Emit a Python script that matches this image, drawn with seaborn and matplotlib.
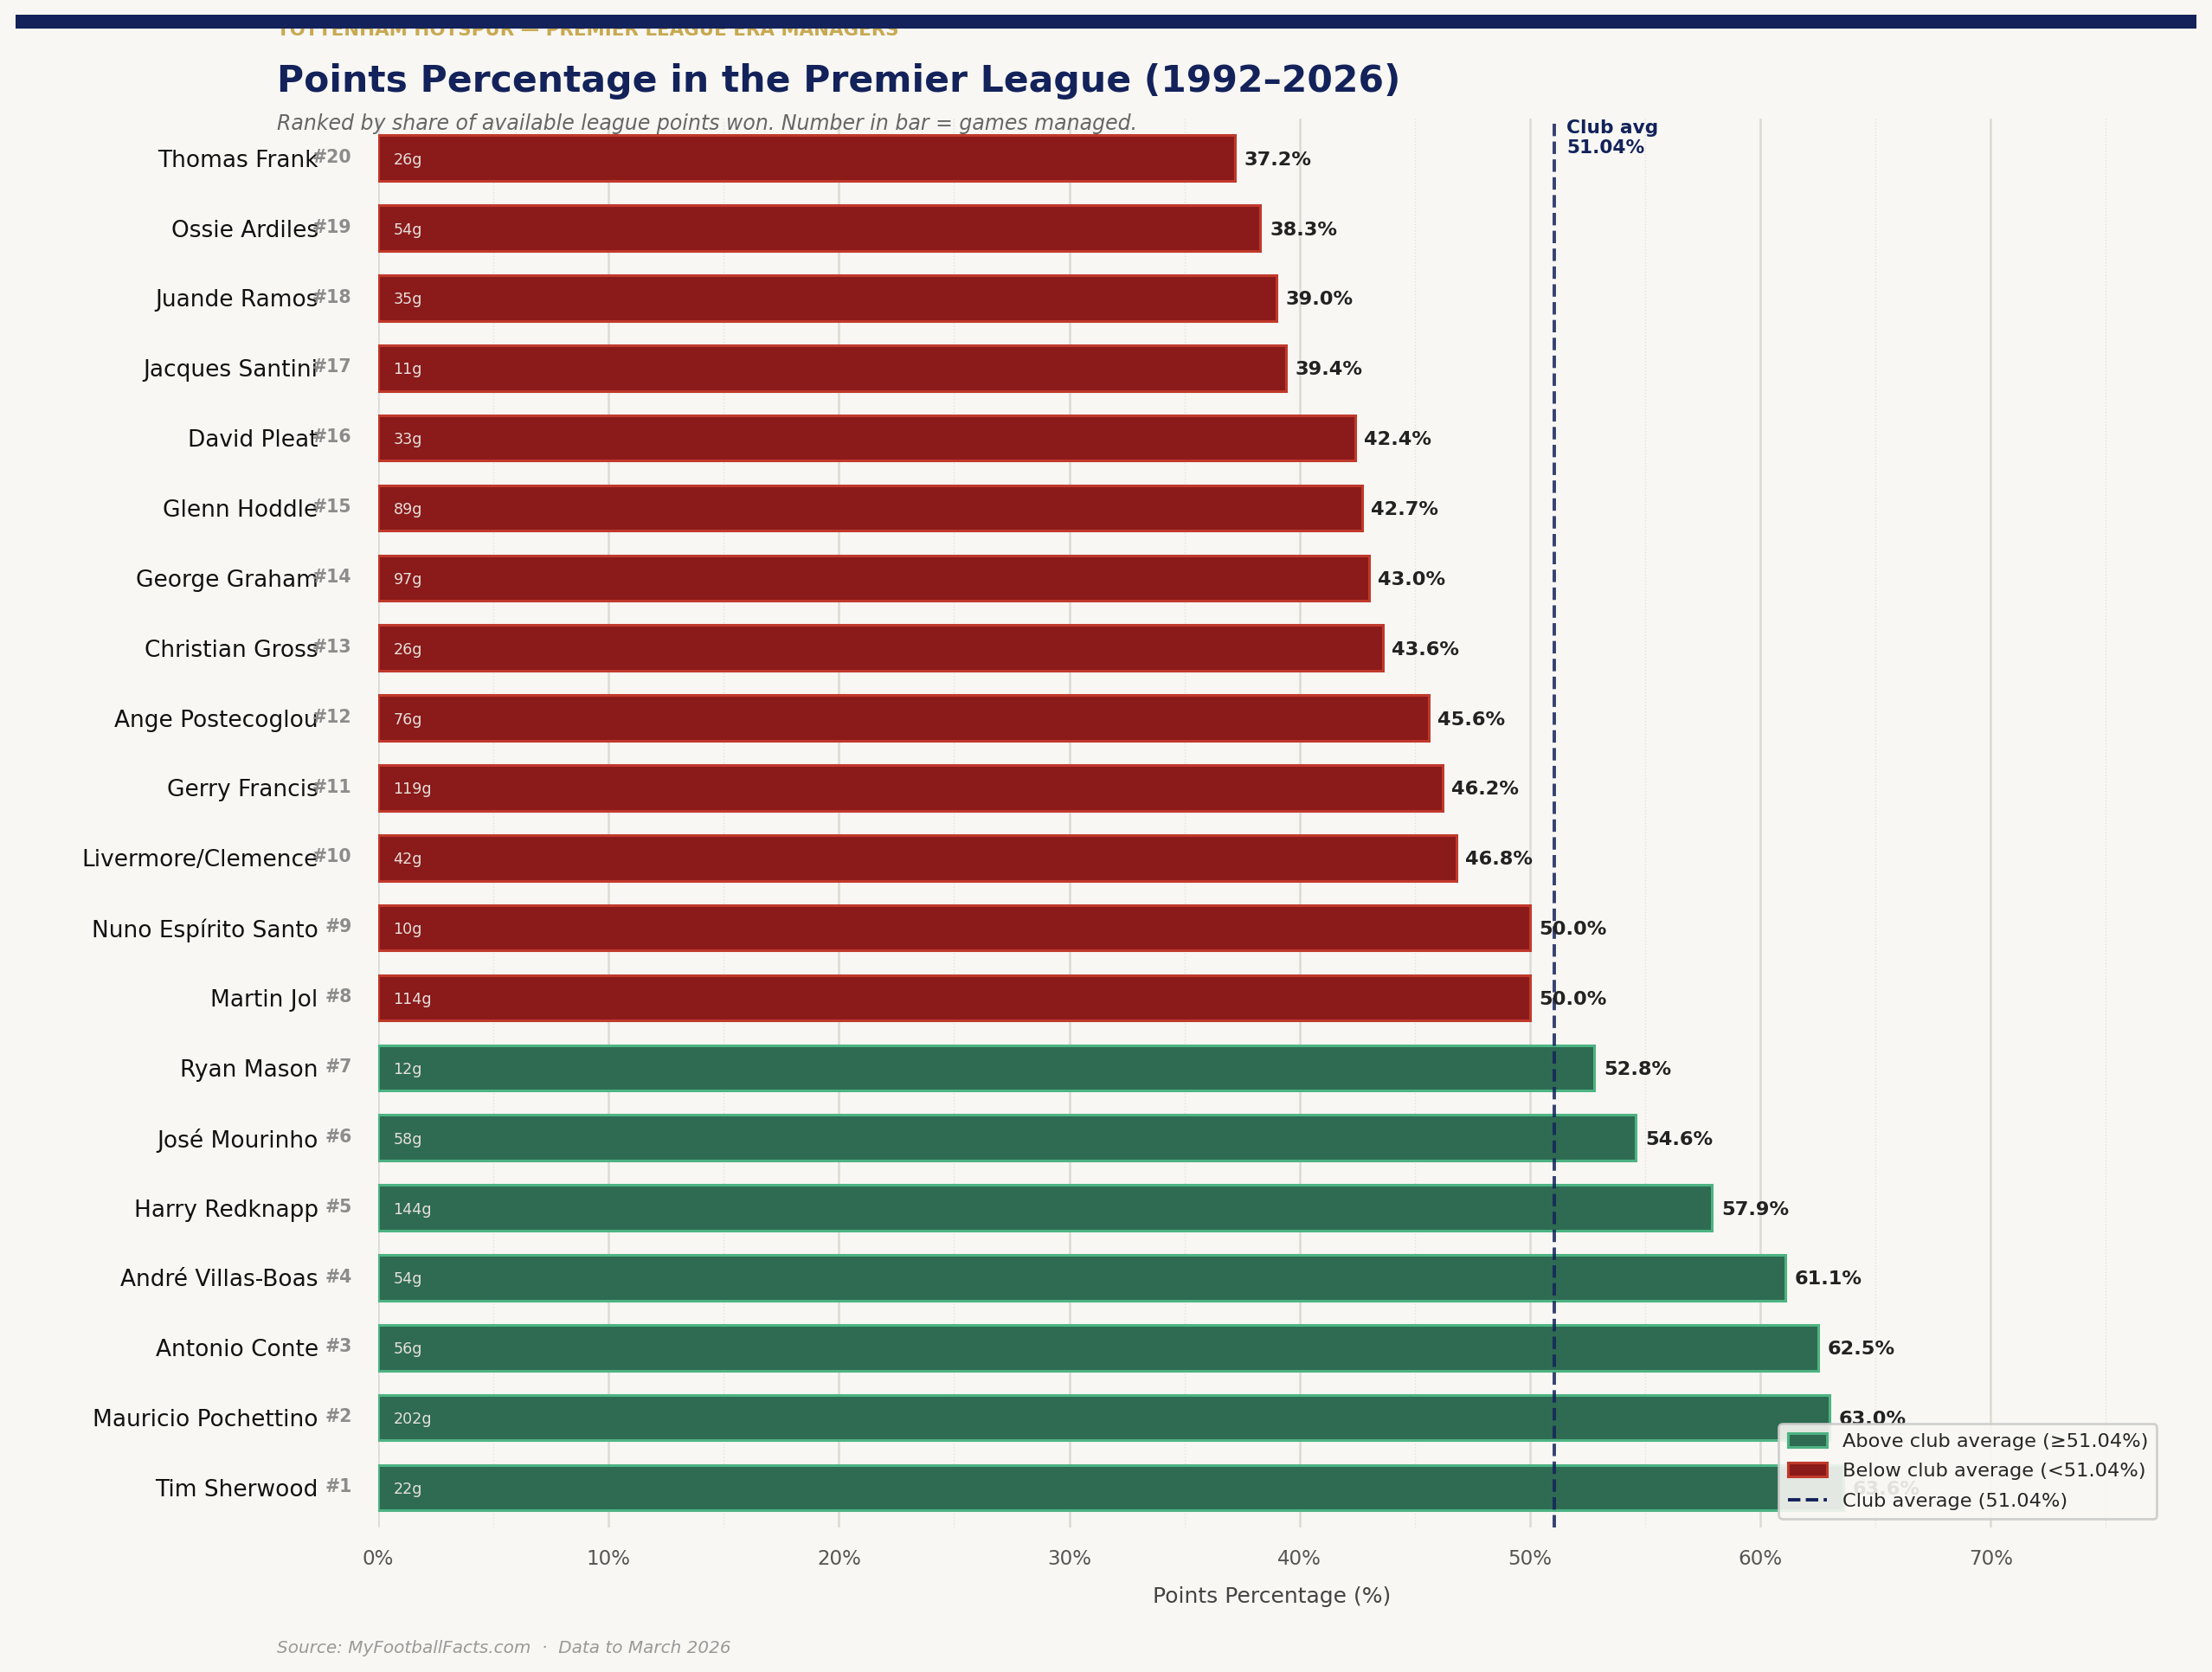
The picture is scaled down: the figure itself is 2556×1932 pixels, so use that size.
import numpy as np
import pandas as pd
import seaborn as sns
import matplotlib.pyplot as plt
from matplotlib.patches import Patch, Rectangle
from matplotlib.lines import Line2D
from matplotlib.ticker import MultipleLocator, FuncFormatter

# Ranked #1 -> #20 by points percentage
managers = ["Tim Sherwood", "Mauricio Pochettino", "Antonio Conte", "André Villas-Boas",
            "Harry Redknapp", "José Mourinho", "Ryan Mason", "Martin Jol",
            "Nuno Espírito Santo", "Livermore/Clemence", "Gerry Francis", "Ange Postecoglou",
            "Christian Gross", "George Graham", "Glenn Hoddle", "David Pleat",
            "Jacques Santini", "Juande Ramos", "Ossie Ardiles", "Thomas Frank"]
points_pct = [63.6, 63.0, 62.5, 61.1, 57.9, 54.6, 52.8, 50.0, 50.0, 46.8,
              46.2, 45.6, 43.6, 43.0, 42.7, 42.4, 39.4, 39.0, 38.3, 37.2]
games = [22, 202, 56, 54, 144, 58, 12, 114, 10, 42,
         119, 76, 26, 97, 89, 33, 11, 35, 54, 26]
club_avg = 51.04

BG = "#F8F7F3"
NAVY = "#13225A"
GOLD = "#C8A951"
GREEN, GREEN_EDGE = "#2E6B52", "#4DB383"
RED, RED_EDGE = "#8B1A1A", "#C0392B"

df = pd.DataFrame({"manager": managers, "pct": points_pct, "games": games})
df["rank"] = np.arange(1, len(df) + 1)
df["group"] = np.where(df["pct"] >= club_avg, "above", "below")
order = managers[::-1]  # worst at the top

sns.set_style("white")
plt.rcParams["font.family"] = ["DejaVu Sans"]

fig = plt.figure(figsize=(12.78, 9.66), dpi=200, facecolor=BG)
ax = fig.add_axes([0.171, 0.0864, 0.808, 0.8429])
ax.set_facecolor(BG)

sns.barplot(data=df, y="manager", x="pct", hue="group", order=order,
            palette={"above": GREEN, "below": RED}, dodge=False, width=0.65,
            saturation=1, orient="h", legend=False, ax=ax, zorder=2)

for bar in ax.patches:
    w = bar.get_width()
    if np.isnan(w):
        continue
    bar.set_edgecolor(GREEN_EDGE if w >= club_avg else RED_EDGE)
    bar.set_linewidth(1.1)

# labels on bars
for _, row in df.iterrows():
    y = order.index(row["manager"])
    ax.text(row["pct"] + 0.4, y, f"{row['pct']:.1f}%", va="center_baseline", ha="left",
            fontsize=8.1, fontweight="bold", color="#222222", zorder=5)
    ax.text(0.65, y, f"{row['games']}g", va="center_baseline", ha="left",
            fontsize=6.3, color="#E6E0DA", zorder=5)
    ax.annotate(f"#{row['rank']}", xy=(0, y), xycoords=ax.get_yaxis_transform(),
                xytext=(-11, 1), textcoords="offset points", ha="right", va="center_baseline",
                fontsize=7.4, fontweight="bold", color="#8C8C8C")

# club average line
ax.axvline(club_avg, color=NAVY, linestyle="--", linewidth=1.4, alpha=0.85, zorder=4)
ax.text(club_avg + 0.55, 0.999, f"Club avg\n{club_avg:.2f}%", transform=ax.get_xaxis_transform(),
        ha="left", va="top", fontsize=7.8, fontweight="bold", color=NAVY, linespacing=1.2)

ax.set_xlim(0, max(points_pct) * 1.22)
ax.set_ylim(len(order) - 0.43, -0.57)
ax.xaxis.set_major_locator(MultipleLocator(10))
ax.xaxis.set_minor_locator(plt.FixedLocator(np.arange(5, 80, 10)))
ax.xaxis.set_major_formatter(FuncFormatter(lambda v, p: f"{v:.0f}%"))
ax.tick_params(axis="x", which="major", length=0, pad=9, labelsize=8.3, labelcolor="#555555")
ax.tick_params(axis="x", which="minor", length=3.5, width=0.8, color="#333333")
ax.tick_params(axis="y", length=0, pad=25, labelsize=9.5, labelcolor="#111111")
ax.grid(axis="x", which="major", color="#DCDAD3", linewidth=0.9, zorder=0)
ax.grid(axis="x", which="minor", color="#E4E1DA", linewidth=0.5, linestyle=":", zorder=0)
ax.set_axisbelow(True)
for s in ax.spines.values():
    s.set_visible(False)

ax.set_ylabel("")
ax.set_xlabel("Points Percentage (%)", fontsize=9, color="#444444", labelpad=7)

handles = [
    Patch(facecolor=GREEN, edgecolor=GREEN_EDGE, linewidth=1.1, label=f"Above club average (≥{club_avg:.2f}%)"),
    Patch(facecolor=RED, edgecolor=RED_EDGE, linewidth=1.1, label=f"Below club average (<{club_avg:.2f}%)"),
    Line2D([0], [0], color=NAVY, linestyle="--", linewidth=1.4, label=f"Club average ({club_avg:.2f}%)"),
]
leg = ax.legend(handles=handles, loc="lower right", fontsize=8.1, frameon=True,
                facecolor=BG, edgecolor="#CCCCCC", framealpha=0.9, borderaxespad=0.45,
                labelspacing=0.65, borderpad=0.45)
leg.set_zorder(10)

# header
fig.text(0.125, 0.979, "TOTTENHAM HOTSPUR — PREMIER LEAGUE ERA MANAGERS", fontsize=7.7,
         fontweight="bold", color=GOLD, ha="left", va="baseline")
fig.patches.append(Rectangle((0.007, 1 - 33 / 1932), 0.986, 16 / 1932, transform=fig.transFigure,
                             facecolor=NAVY, edgecolor="none", zorder=20))
fig.text(0.125, 0.945, "Points Percentage in the Premier League (1992–2026)", fontsize=15.3,
         fontweight="bold", color=NAVY, ha="left", va="baseline")
fig.text(0.125, 0.9224, "Ranked by share of available league points won. Number in bar = games managed.",
         fontsize=8.5, style="italic", color="#666666", ha="left", va="baseline")
fig.text(0.125, 0.0114, "Source: MyFootballFacts.com  ·  Data to March 2026", fontsize=7.2,
         style="italic", color="#999999", ha="left", va="baseline")

fig.savefig("out.png", dpi=200, facecolor=BG)
